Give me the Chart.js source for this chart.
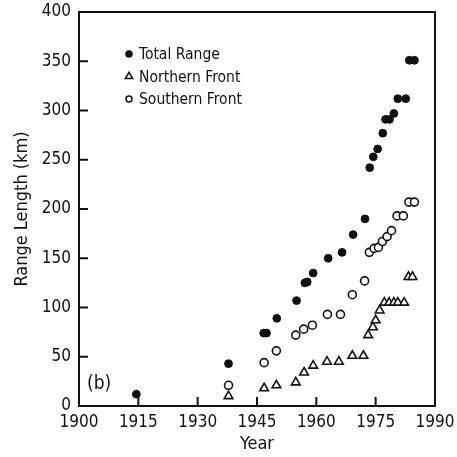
<!DOCTYPE html>
<html>
<head>
<meta charset="utf-8">
<script src="https://cdn.jsdelivr.net/npm/chart.js@4.4.0/dist/chart.umd.min.js"></script>
<style>
  html, body { margin: 0; padding: 0; background: #fff; }
  #wrap { width: 457px; height: 457px; }
</style>
</head>
<body>
<div id="wrap"><canvas id="chart" width="457" height="457"></canvas></div>
<script>
const totalYears = [1914.5, 1937.8, 1946.7, 1947.4, 1950.0, 1955.0, 1957.1, 1957.7, 1959.2, 1963.0, 1966.5, 1969.3, 1972.3, 1973.5, 1974.4, 1975.5, 1976.8, 1977.5, 1978.5, 1979.6, 1980.6, 1982.6, 1983.5, 1984.8];
const totalRange = [12, 43, 74, 74, 89, 107, 125, 126, 135, 150, 156, 174, 190, 242, 253, 261, 277, 291, 291, 297, 312, 312, 351, 351];

const northYears = [1937.8, 1946.8, 1949.9, 1954.8, 1956.9, 1959.2, 1962.7, 1965.7, 1969.1, 1971.9, 1973.1, 1974.3, 1975.0, 1976.0, 1977.2, 1978.4, 1979.6, 1980.6, 1982.2, 1983.3, 1984.3];
const northernFront = [10, 18, 21, 24, 34, 41, 45, 45, 51, 51, 72, 80, 87, 97, 105, 105, 105, 105, 105, 131, 131];

const southYears = [1937.8, 1946.8, 1949.9, 1954.8, 1956.8, 1959.0, 1962.8, 1966.1, 1969.1, 1972.2, 1973.4, 1974.6, 1975.7, 1976.7, 1977.9, 1979.0, 1980.4, 1982.0, 1983.4, 1984.8];
const southernFront = [21, 44, 56, 72, 78, 82, 93, 93, 113, 127, 156, 160, 161, 167, 172, 178, 193, 193, 207, 207];

const xTicks = [1900, 1915, 1930, 1945, 1960, 1975, 1990];
const yTicks = [0, 50, 100, 150, 200, 250, 300, 350, 400];
const legendLabels = ["Total Range", "Northern Front", "Southern Front"];
const panelLabel = "(b)";

const toPoints = (xs, ys) => xs.map((x, i) => ({ x, y: ys[i] }));

const FONT = "'Liberation Sans Narrow', 'DejaVu Sans Condensed', 'Liberation Sans', sans-serif";

const frame = {
  id: "frame",
  beforeDatasetsDraw(chart) {
    const { ctx, chartArea: a, scales: { x, y } } = chart;
    ctx.save();
    ctx.strokeStyle = "#111";
    ctx.lineWidth = 2;
    ctx.strokeRect(a.left, a.top, a.right - a.left, a.bottom - a.top);
    ctx.beginPath();
    x.ticks.forEach((t) => {
      const px = x.getPixelForValue(t.value);
      ctx.moveTo(px, a.bottom);
      ctx.lineTo(px, a.bottom - 9);
    });
    y.ticks.forEach((t) => {
      const py = y.getPixelForValue(t.value);
      ctx.moveTo(a.left, py);
      ctx.lineTo(a.left + 9, py);
    });
    ctx.stroke();
    ctx.restore();
  },
  afterDraw(chart) {
    const { ctx, chartArea: a } = chart;
    ctx.save();
    ctx.font = `15.5px ${FONT}`;
    ctx.fillStyle = "#111";
    ctx.textBaseline = "middle";
    chart.data.datasets.forEach((ds, i) => {
      const cy = a.top + 42 + i * 22.5;
      ctx.fillStyle = ds.backgroundColor;
      ctx.strokeStyle = ds.borderColor;
      ctx.lineWidth = 1.5;
      Chart.helpers.drawPoint(ctx, {
        pointStyle: ds.pointStyle,
        radius: ds.pointStyle === "triangle" ? 4.2 : 3,
        borderWidth: 1.5,
        rotation: 0,
      }, a.left + 50, cy);
      ctx.fillStyle = "#111";
      ctx.fillText(legendLabels[i], a.left + 60, cy + 1);
    });
    ctx.font = `19px ${FONT}`;
    ctx.fillText(panelLabel, a.left + 8, a.bottom - 22);
    ctx.restore();
  },
};

new Chart(document.getElementById("chart"), {
  type: "scatter",
  data: {
    datasets: [
      {
        label: legendLabels[0],
        data: toPoints(totalYears, totalRange),
        pointStyle: "circle",
        pointRadius: 3.9,
        borderWidth: 1,
        backgroundColor: "#111",
        borderColor: "#111",
      },
      {
        label: legendLabels[1],
        data: toPoints(northYears, northernFront),
        pointStyle: "triangle",
        pointRadius: 5,
        borderWidth: 1.6,
        backgroundColor: "#fff",
        borderColor: "#111",
      },
      {
        label: legendLabels[2],
        data: toPoints(southYears, southernFront),
        pointStyle: "circle",
        pointRadius: 4,
        borderWidth: 1.6,
        backgroundColor: "#fff",
        borderColor: "#111",
      },
    ],
  },
  options: {
    responsive: false,
    animation: false,
    events: [],
    layout: { padding: { left: 0, right: 22, top: 12, bottom: 0 } },
    plugins: { legend: { display: false }, tooltip: { enabled: false } },
    scales: {
      x: {
        type: "linear",
        min: xTicks[0],
        max: xTicks[xTicks.length - 1],
        afterBuildTicks: (scale) => { scale.ticks = xTicks.map((v) => ({ value: v })); },
        afterFit: (scale) => { scale.height = 51; scale.paddingLeft = 0; scale.paddingRight = 0; },
        grid: { display: false, drawTicks: false },
        border: { display: false },
        ticks: {
          padding: 6,
          color: "#111",
          font: { family: FONT, size: 17 },
          callback: (v) => String(v),
          maxRotation: 0,
        },
        title: {
          display: true,
          text: "Year",
          color: "#111",
          font: { family: FONT, size: 18 },
          padding: { top: 0, bottom: 2 },
        },
      },
      y: {
        type: "linear",
        min: yTicks[0],
        max: yTicks[yTicks.length - 1],
        afterBuildTicks: (scale) => { scale.ticks = yTicks.map((v) => ({ value: v })); },
        afterFit: (scale) => { scale.width = 79; scale.paddingTop = 0; scale.paddingBottom = 0; },
        grid: { display: false, drawTicks: false },
        border: { display: false },
        ticks: {
          padding: 8,
          color: "#111",
          font: { family: FONT, size: 17 },
          callback: (v) => String(v),
        },
        title: {
          display: true,
          text: "Range Length (km)",
          color: "#111",
          font: { family: FONT, size: 18 },
          padding: { top: 12, bottom: 0 },
        },
      },
    },
  },
  plugins: [frame],
});
</script>
</body>
</html>
